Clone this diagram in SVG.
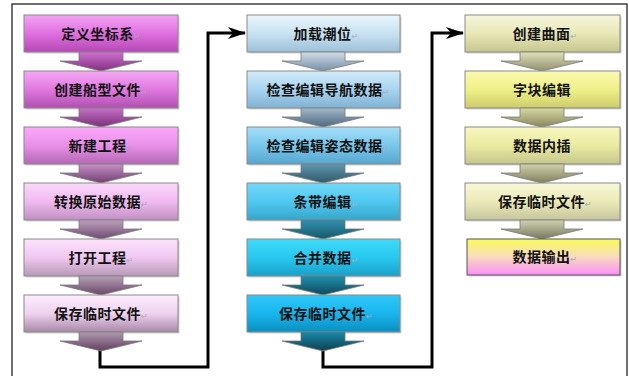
<svg xmlns="http://www.w3.org/2000/svg" width="629" height="376" viewBox="0 0 629 376">
<style>
.box{stroke:#8a8a8a;stroke-width:1}
.shadow{fill:#000;opacity:0.18}
.arr{stroke:#7a7a7a;stroke-width:0.8}
.lbl{font-family:"Noto Sans CJK SC","Noto Sans",sans-serif;font-weight:700;font-size:14px;fill:#111;text-anchor:middle;letter-spacing:0.5px}
.rt{font-family:"DejaVu Sans",sans-serif;font-weight:400;font-size:8px;fill:#aaaaaa}
.conn{fill:none;stroke:#000;stroke-width:3}
.frame{fill:none;stroke:#222;stroke-width:1.3}
</style>
<defs>
<linearGradient id="p1" x1="0" y1="0" x2="0" y2="1"><stop offset="0" stop-color="#f4a4f4"/><stop offset="0.5" stop-color="#e070e0"/><stop offset="1" stop-color="#b448b4"/></linearGradient>
<linearGradient id="p2" x1="0" y1="0" x2="0" y2="1"><stop offset="0" stop-color="#f6a8f6"/><stop offset="0.5" stop-color="#e078e0"/><stop offset="1" stop-color="#b050b0"/></linearGradient>
<linearGradient id="p3" x1="0" y1="0" x2="0" y2="1"><stop offset="0" stop-color="#fba8fb"/><stop offset="0.5" stop-color="#e890e8"/><stop offset="1" stop-color="#b468b4"/></linearGradient>
<linearGradient id="p4" x1="0" y1="0" x2="0" y2="1"><stop offset="0" stop-color="#fcd8fc"/><stop offset="0.5" stop-color="#f0baf0"/><stop offset="1" stop-color="#c090c0"/></linearGradient>
<linearGradient id="p5" x1="0" y1="0" x2="0" y2="1"><stop offset="0" stop-color="#fde2fd"/><stop offset="0.5" stop-color="#f0c8f0"/><stop offset="1" stop-color="#b898b8"/></linearGradient>
<linearGradient id="p6" x1="0" y1="0" x2="0" y2="1"><stop offset="0" stop-color="#feeefe"/><stop offset="0.5" stop-color="#eed2ee"/><stop offset="1" stop-color="#a888a8"/></linearGradient>
<linearGradient id="pa1" x1="0" y1="0" x2="0" y2="1"><stop offset="0" stop-color="#d070d0"/><stop offset="1" stop-color="#803080"/></linearGradient>
<linearGradient id="pa2" x1="0" y1="0" x2="0" y2="1"><stop offset="0" stop-color="#c870c8"/><stop offset="1" stop-color="#783078"/></linearGradient>
<linearGradient id="pa3" x1="0" y1="0" x2="0" y2="1"><stop offset="0" stop-color="#c890c8"/><stop offset="1" stop-color="#704070"/></linearGradient>
<linearGradient id="pa4" x1="0" y1="0" x2="0" y2="1"><stop offset="0" stop-color="#c0a0c0"/><stop offset="1" stop-color="#6c4c6c"/></linearGradient>
<linearGradient id="pa5" x1="0" y1="0" x2="0" y2="1"><stop offset="0" stop-color="#b8a0b8"/><stop offset="1" stop-color="#684868"/></linearGradient>
<linearGradient id="pa6" x1="0" y1="0" x2="0" y2="1"><stop offset="0" stop-color="#b098b0"/><stop offset="1" stop-color="#604060"/></linearGradient>
<linearGradient id="b1" x1="0" y1="0" x2="0" y2="1"><stop offset="0" stop-color="#eaf5fc"/><stop offset="0.5" stop-color="#c8e2f2"/><stop offset="1" stop-color="#9ec0d8"/></linearGradient>
<linearGradient id="b2" x1="0" y1="0" x2="0" y2="1"><stop offset="0" stop-color="#d2ecfa"/><stop offset="0.5" stop-color="#a8d4f0"/><stop offset="1" stop-color="#80b2d2"/></linearGradient>
<linearGradient id="b3" x1="0" y1="0" x2="0" y2="1"><stop offset="0" stop-color="#a4def8"/><stop offset="0.5" stop-color="#78c8ec"/><stop offset="1" stop-color="#58a6ce"/></linearGradient>
<linearGradient id="b4" x1="0" y1="0" x2="0" y2="1"><stop offset="0" stop-color="#72d8f8"/><stop offset="0.5" stop-color="#50c8f0"/><stop offset="1" stop-color="#36a6ca"/></linearGradient>
<linearGradient id="b5" x1="0" y1="0" x2="0" y2="1"><stop offset="0" stop-color="#40daf8"/><stop offset="0.5" stop-color="#28c8f0"/><stop offset="1" stop-color="#1aa0c8"/></linearGradient>
<linearGradient id="b6" x1="0" y1="0" x2="0" y2="1"><stop offset="0" stop-color="#30c8f8"/><stop offset="0.5" stop-color="#18b6ee"/><stop offset="1" stop-color="#0a8ebe"/></linearGradient>
<linearGradient id="ba1" x1="0" y1="0" x2="0" y2="1"><stop offset="0" stop-color="#d0dce8"/><stop offset="1" stop-color="#7890a8"/></linearGradient>
<linearGradient id="ba2" x1="0" y1="0" x2="0" y2="1"><stop offset="0" stop-color="#a0b8c8"/><stop offset="1" stop-color="#506880"/></linearGradient>
<linearGradient id="ba3" x1="0" y1="0" x2="0" y2="1"><stop offset="0" stop-color="#6098b0"/><stop offset="1" stop-color="#305868"/></linearGradient>
<linearGradient id="ba4" x1="0" y1="0" x2="0" y2="1"><stop offset="0" stop-color="#3090b0"/><stop offset="1" stop-color="#185868"/></linearGradient>
<linearGradient id="ba5" x1="0" y1="0" x2="0" y2="1"><stop offset="0" stop-color="#2090b0"/><stop offset="1" stop-color="#104858"/></linearGradient>
<linearGradient id="ba6" x1="0" y1="0" x2="0" y2="1"><stop offset="0" stop-color="#1888a8"/><stop offset="1" stop-color="#104050"/></linearGradient>
<linearGradient id="y1" x1="0" y1="0" x2="0" y2="1"><stop offset="0" stop-color="#f6f6dc"/><stop offset="0.5" stop-color="#e8e8b8"/><stop offset="1" stop-color="#c6c68e"/></linearGradient>
<linearGradient id="y2" x1="0" y1="0" x2="0" y2="1"><stop offset="0" stop-color="#fafab0"/><stop offset="0.5" stop-color="#f0f088"/><stop offset="1" stop-color="#cccc6c"/></linearGradient>
<linearGradient id="y3" x1="0" y1="0" x2="0" y2="1"><stop offset="0" stop-color="#f8f8c0"/><stop offset="0.5" stop-color="#eaeaa0"/><stop offset="1" stop-color="#c6c68e"/></linearGradient>
<linearGradient id="y4" x1="0" y1="0" x2="0" y2="1"><stop offset="0" stop-color="#f8f8d8"/><stop offset="0.5" stop-color="#eaeab8"/><stop offset="1" stop-color="#c6c69e"/></linearGradient>
<linearGradient id="y5" x1="0" y1="0" x2="0" y2="1"><stop offset="0" stop-color="#fafa58"/><stop offset="0.45" stop-color="#fae0b8"/><stop offset="1" stop-color="#fa90fa"/></linearGradient>
<linearGradient id="ya1" x1="0" y1="0" x2="0" y2="1"><stop offset="0" stop-color="#e0e0b8"/><stop offset="1" stop-color="#909070"/></linearGradient>
<linearGradient id="ya2" x1="0" y1="0" x2="0" y2="1"><stop offset="0" stop-color="#d8d8a0"/><stop offset="1" stop-color="#888860"/></linearGradient>
<linearGradient id="ya3" x1="0" y1="0" x2="0" y2="1"><stop offset="0" stop-color="#d0d0a8"/><stop offset="1" stop-color="#808060"/></linearGradient>
<linearGradient id="ya4" x1="0" y1="0" x2="0" y2="1"><stop offset="0" stop-color="#d0d0b0"/><stop offset="1" stop-color="#787860"/></linearGradient>
<marker id="ah" viewBox="0 0 18 12" refX="17" refY="6" markerWidth="18" markerHeight="12" markerUnits="userSpaceOnUse" orient="auto">
<path d="M0,0 L18,6 L0,12 L5,6 Z" fill="#000"/>
</marker>
</defs>

<rect class="frame" x="12" y="4" width="615" height="380"/>

<g id="connectors">
<polyline class="conn" points="100,350 100,367 208,367 208,33 245,33" marker-end="url(#ah)"/>
<polyline class="conn" points="323,351 323,367 432,367 432,33 463,33" marker-end="url(#ah)"/>
</g>

<!-- Column 1 -->
<g id="c1n1">
<rect class="shadow" x="25.5" y="16.5" width="154" height="37"/>
<rect class="box" x="24" y="15" width="154" height="37" fill="url(#p1)"/>
<path class="arr" d="M79,52 H123 V61 H142 L101,71 L60,61 H79 Z" fill="url(#pa1)"/>
<text class="lbl" x="101" y="38.5">定义坐标系<tspan class="rt">↵</tspan></text>
</g>
<g id="c1n2">
<rect class="shadow" x="25.5" y="72.5" width="154" height="37"/>
<rect class="box" x="24" y="71" width="154" height="37" fill="url(#p2)"/>
<path class="arr" d="M79,108 H123 V117 H142 L101,127 L60,117 H79 Z" fill="url(#pa2)"/>
<text class="lbl" x="101" y="94.5">创建船型文件<tspan class="rt">↵</tspan></text>
</g>
<g id="c1n3">
<rect class="shadow" x="25.5" y="128.5" width="154" height="37"/>
<rect class="box" x="24" y="127" width="154" height="37" fill="url(#p3)"/>
<path class="arr" d="M79,164 H123 V173 H142 L101,183 L60,173 H79 Z" fill="url(#pa3)"/>
<text class="lbl" x="101" y="150.5">新建工程<tspan class="rt">↵</tspan></text>
</g>
<g id="c1n4">
<rect class="shadow" x="25.5" y="184.5" width="154" height="37"/>
<rect class="box" x="24" y="183" width="154" height="37" fill="url(#p4)"/>
<path class="arr" d="M79,220 H123 V229 H142 L101,239 L60,229 H79 Z" fill="url(#pa4)"/>
<text class="lbl" x="101" y="206.5">转换原始数据<tspan class="rt">↵</tspan></text>
</g>
<g id="c1n5">
<rect class="shadow" x="25.5" y="240.5" width="154" height="37"/>
<rect class="box" x="24" y="239" width="154" height="37" fill="url(#p5)"/>
<path class="arr" d="M79,276 H123 V285 H142 L101,295 L60,285 H79 Z" fill="url(#pa5)"/>
<text class="lbl" x="101" y="262.5">打开工程<tspan class="rt">↵</tspan></text>
</g>
<g id="c1n6">
<rect class="shadow" x="25.5" y="296.5" width="154" height="37"/>
<rect class="box" x="24" y="295" width="154" height="37" fill="url(#p6)"/>
<path class="arr" d="M79,332 H123 V341 H142 L101,351 L60,341 H79 Z" fill="url(#pa6)"/>
<text class="lbl" x="101" y="318.5">保存临时文件<tspan class="rt">↵</tspan></text>
</g>

<!-- Column 2 -->
<g id="c2n1">
<rect class="shadow" x="248.5" y="16.5" width="153" height="37"/>
<rect class="box" x="247" y="15" width="153" height="37" fill="url(#b1)"/>
<path class="arr" d="M301,52 H345 V61 H364 L323,71 L282,61 H301 Z" fill="url(#ba1)"/>
<text class="lbl" x="326" y="38.5">加载潮位<tspan class="rt">↵</tspan></text>
</g>
<g id="c2n2">
<rect class="shadow" x="248.5" y="72.5" width="153" height="37"/>
<rect class="box" x="247" y="71" width="153" height="37" fill="url(#b2)"/>
<path class="arr" d="M301,108 H345 V117 H364 L323,127 L282,117 H301 Z" fill="url(#ba2)"/>
<text class="lbl" x="328" y="94.5">检查编辑导航数据<tspan class="rt">↵</tspan></text>
</g>
<g id="c2n3">
<rect class="shadow" x="248.5" y="128.5" width="153" height="37"/>
<rect class="box" x="247" y="127" width="153" height="37" fill="url(#b3)"/>
<path class="arr" d="M301,164 H345 V173 H364 L323,183 L282,173 H301 Z" fill="url(#ba3)"/>
<text class="lbl" x="328" y="150.5">检查编辑姿态数据<tspan class="rt">↵</tspan></text>
</g>
<g id="c2n4">
<rect class="shadow" x="248.5" y="184.5" width="153" height="37"/>
<rect class="box" x="247" y="183" width="153" height="37" fill="url(#b4)"/>
<path class="arr" d="M301,220 H345 V229 H364 L323,239 L282,229 H301 Z" fill="url(#ba4)"/>
<text class="lbl" x="326" y="206.5">条带编辑<tspan class="rt">↵</tspan></text>
</g>
<g id="c2n5">
<rect class="shadow" x="248.5" y="240.5" width="153" height="37"/>
<rect class="box" x="247" y="239" width="153" height="37" fill="url(#b5)"/>
<path class="arr" d="M301,276 H345 V285 H364 L323,295 L282,285 H301 Z" fill="url(#ba5)"/>
<text class="lbl" x="326" y="262.5">合并数据<tspan class="rt">↵</tspan></text>
</g>
<g id="c2n6">
<rect class="shadow" x="248.5" y="296.5" width="153" height="37"/>
<rect class="box" x="247" y="295" width="153" height="37" fill="url(#b6)"/>
<path class="arr" d="M301,332 H345 V341 H364 L323,351 L282,341 H301 Z" fill="url(#ba6)"/>
<text class="lbl" x="326" y="318.5">保存临时文件<tspan class="rt">↵</tspan></text>
</g>

<!-- Column 3 -->
<g id="c3n1">
<rect class="shadow" x="466.5" y="16.5" width="155" height="37"/>
<rect class="box" x="465" y="15" width="155" height="37" fill="url(#y1)"/>
<path class="arr" d="M520,52 H564 V61 H583 L542,71 L501,61 H520 Z" fill="url(#ya1)"/>
<text class="lbl" x="545" y="38.5">创建曲面<tspan class="rt">↵</tspan></text>
</g>
<g id="c3n2">
<rect class="shadow" x="466.5" y="72.5" width="155" height="37"/>
<rect class="box" x="465" y="71" width="155" height="37" fill="url(#y2)"/>
<path class="arr" d="M520,108 H564 V117 H583 L542,127 L501,117 H520 Z" fill="url(#ya2)"/>
<text class="lbl" x="542" y="94.5">字块编辑</text>
</g>
<g id="c3n3">
<rect class="shadow" x="466.5" y="128.5" width="155" height="37"/>
<rect class="box" x="465" y="127" width="155" height="37" fill="url(#y3)"/>
<path class="arr" d="M520,164 H564 V173 H583 L542,183 L501,173 H520 Z" fill="url(#ya3)"/>
<text class="lbl" x="542" y="150.5">数据内插</text>
</g>
<g id="c3n4">
<rect class="shadow" x="466.5" y="184.5" width="155" height="37"/>
<rect class="box" x="465" y="183" width="155" height="37" fill="url(#y4)"/>
<path class="arr" d="M520,220 H564 V229 H583 L542,239 L501,229 H520 Z" fill="url(#ya4)"/>
<text class="lbl" x="545" y="206.5">保存临时文件<tspan class="rt">↵</tspan></text>
</g>
<g id="c3n5">
<rect class="shadow" x="468.5" y="240.5" width="153" height="36"/>
<rect x="467" y="239" width="153" height="36" fill="url(#y5)" stroke="#555" stroke-width="1"/>
<text class="lbl" x="545" y="262">数据输出<tspan class="rt">↵</tspan></text>
</g>
</svg>
